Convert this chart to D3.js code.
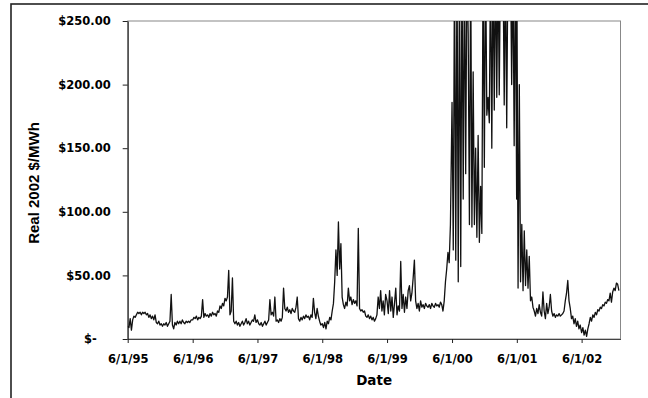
<!DOCTYPE html>
<html>
<head>
<meta charset="utf-8">
<script src="https://cdn.jsdelivr.net/npm/d3@7"></script>
<style>
  body { margin: 0; background: #fff; }
  svg { display: block; }
  .tick text { font-family: "DejaVu Sans", sans-serif; font-weight: bold; font-size: 11.5px; fill: #000; }
</style>
</head>
<body>
<script>
// weekly real prices ($/MWh), each season starts on June 1
const price1995 = [10, 9, 16, 7, 15, 18, 17, 19, 21, 20, 21, 19, 21, 20, 21, 19, 20, 17, 19, 16, 18, 15, 19, 13, 12, 14,
  11, 12, 10, 12, 11, 13, 10, 12, 14, 35, 11, 8, 13, 11, 14, 12, 14, 12, 15, 13, 12, 14, 13, 14, 13, 15]
const price1996 = [15, 17, 16, 18, 15, 17, 16, 18, 31, 17, 20, 18, 19, 17, 20, 18, 21, 19, 20, 18, 22, 21, 26, 24, 28, 26,
  32, 30, 33, 54, 19, 22, 48, 14, 12, 14, 11, 13, 10, 12, 14, 11, 13, 16, 12, 14, 11, 13, 15, 14, 19, 13]
const price1997 = [15, 12, 11, 13, 10, 12, 14, 11, 13, 15, 31, 19, 21, 18, 33, 14, 15, 13, 16, 14, 17, 40, 24, 22, 25, 21,
  23, 20, 24, 22, 21, 25, 33, 16, 14, 17, 15, 18, 16, 19, 17, 18, 15, 19, 17, 32, 21, 16, 24, 18, 14, 11]
const price1998 = [12, 9, 13, 8, 14, 12, 17, 15, 22, 28, 45, 70, 50, 92, 55, 75, 33, 27, 24, 29, 26, 40, 30, 33, 27, 31,
  28, 30, 26, 87, 24, 22, 23, 21, 22, 18, 17, 19, 16, 18, 15, 17, 14, 16, 19, 33, 24, 38, 22, 30, 19, 35]
const price1999 = [30, 20, 38, 22, 33, 17, 28, 40, 19, 26, 22, 61, 24, 35, 21, 33, 24, 38, 42, 30, 36, 48, 62, 30, 24, 28,
  22, 30, 25, 27, 24, 28, 26, 25, 27, 24, 28, 26, 25, 28, 26, 27, 25, 29, 27, 22, 30, 45, 55, 68, 60, 90]
const price2000 = [186, 70, 300, 62, 300, 45, 300, 57, 300, 110, 300, 130, 300, 240, 90, 300, 88, 210, 90, 150, 80, 160,
  76, 120, 83, 300, 135, 300, 176, 190, 170, 300, 150, 300, 180, 300, 190, 300, 192, 300, 260, 300, 184, 300, 166, 300,
  280, 300, 200, 300, 152, 300, 110]
const price2001 = [300, 40, 200, 45, 90, 38, 85, 42, 70, 40, 65, 30, 33, 25, 22, 18, 24, 20, 27, 21, 18, 37, 22, 16, 28, 20,
  25, 35, 22, 18, 20, 17, 19, 18, 20, 18, 19, 20, 22, 30, 36, 46, 30, 24, 16, 18, 12, 16, 10, 14, 8, 11]
const price2002 = [5, 9, 3, 7, 2, 8, 12, 17, 14, 19, 17, 21, 19, 23, 22, 25, 24, 27, 26, 29, 28, 31, 30, 36, 29, 37, 40,
  38, 44, 43, 38]

const seasonStarts = ['1995-06-01', '1996-06-01', '1997-06-01', '1998-06-01', '1999-06-01', '2000-06-01', '2001-06-01', '2002-06-01']
const seasonPrices = [price1995, price1996, price1997, price1998, price1999, price2000, price2001, price2002]

const tickDates = ['1995-06-01', '1996-06-01', '1997-06-01', '1998-06-01', '1999-06-01', '2000-06-01', '2001-06-01', '2002-06-01']
const priceTicks = [0, 50, 100, 150, 200, 250]
const axisEnd = '2003-01-06'

const parse = d3.timeParse('%Y-%m-%d')
const data = seasonPrices.flatMap((vals, s) =>
  vals.map((v, i) => ({ date: d3.timeDay.offset(parse(seasonStarts[s]), i * 7), price: v })))

const width = 648
const height = 398
const plotLeft = 127.7, plotRight = 620.5, plotTop = 21, plotBottom = 339

const svg = d3.select('body').append('svg')
  .attr('width', width)
  .attr('height', height)

// outer chart frame (cropped at right and bottom)
svg.append('rect')
  .attr('x', 11).attr('y', 4)
  .attr('width', 700).attr('height', 500)
  .attr('fill', 'none')
  .attr('stroke', '#222')
  .attr('stroke-width', 1.6)

const x = d3.scaleTime()
  .domain([parse(tickDates[0]), parse(axisEnd)])
  .range([plotLeft, plotRight])
const y = d3.scaleLinear()
  .domain([0, 250])
  .range([plotBottom, plotTop])

// plot area border
svg.append('rect')
  .attr('x', plotLeft).attr('y', plotTop)
  .attr('width', plotRight - plotLeft).attr('height', plotBottom - plotTop)
  .attr('fill', 'none')
  .attr('stroke', '#888')
  .attr('stroke-width', 1)

svg.append('clipPath').attr('id', 'plot')
  .append('rect')
  .attr('x', plotLeft).attr('y', plotTop)
  .attr('width', plotRight - plotLeft).attr('height', plotBottom - plotTop)

const line = d3.line()
  .x(d => x(d.date))
  .y(d => y(d.price))

svg.append('path')
  .datum(data)
  .attr('clip-path', 'url(#plot)')
  .attr('fill', 'none')
  .attr('stroke', '#111')
  .attr('stroke-width', 1.3)
  .attr('stroke-linejoin', 'round')
  .attr('d', line)

const xAxis = svg.append('g')
  .attr('transform', `translate(0,${plotBottom})`)
  .call(d3.axisBottom(x)
    .tickValues(tickDates.map(parse))
    .tickFormat(d3.timeFormat('%-m/%-d/%y'))
    .tickSize(4)
    .tickSizeOuter(0)
    .tickPadding(12))
xAxis.select('.domain').attr('stroke', '#444')
xAxis.selectAll('.tick line').attr('stroke', '#222')

const yAxis = svg.append('g')
  .attr('transform', `translate(${plotLeft},0)`)
  .call(d3.axisLeft(y)
    .tickValues(priceTicks)
    .tickFormat(v => v === 0 ? '$-' : '$' + v.toFixed(2))
    .tickSize(5)
    .tickSizeOuter(0)
    .tickPadding(12))
yAxis.select('.domain').attr('stroke', '#111')
yAxis.selectAll('.tick line').attr('stroke', '#222')
yAxis.selectAll('.tick text').filter(d => d === 0).attr('dx', -14)

svg.append('text')
  .attr('x', (plotLeft + plotRight) / 2)
  .attr('y', 385)
  .attr('text-anchor', 'middle')
  .style('font-family', '"DejaVu Sans", sans-serif')
  .style('font-weight', 'bold')
  .style('font-size', '13.5px')
  .text('Date')

svg.append('text')
  .attr('transform', 'translate(39,183) rotate(-90)')
  .attr('text-anchor', 'middle')
  .style('font-family', '"Liberation Sans", Arial, sans-serif')
  .style('font-weight', 'bold')
  .style('font-size', '15px')
  .text('Real 2002 $/MWh')
</script>
</body>
</html>
